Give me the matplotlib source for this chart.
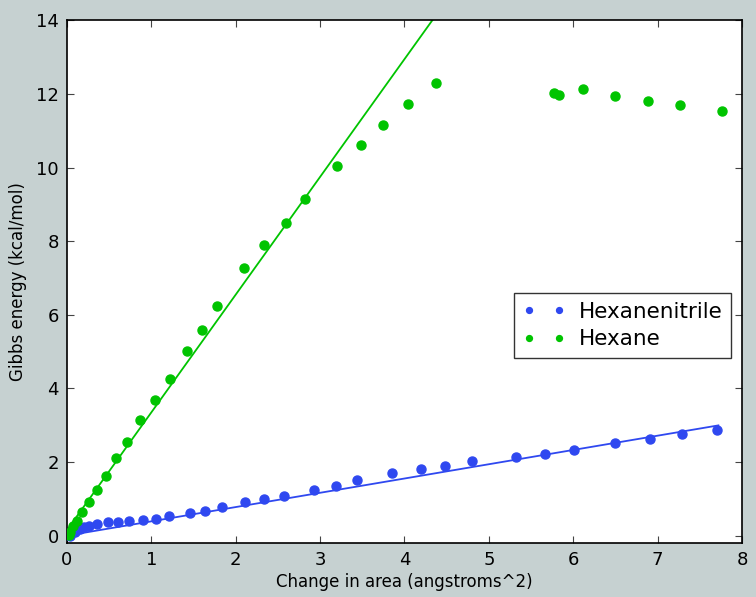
import matplotlib
matplotlib.use("Agg")
import matplotlib.pyplot as plt
import numpy as np

# Data
nitrile_x = [0.03, 0.09, 0.15, 0.20, 0.26, 0.36, 0.49, 0.60, 0.73, 0.90, 1.05, 1.21,
             1.46, 1.64, 1.84, 2.11, 2.33, 2.57, 2.93, 3.19, 3.44, 3.85, 4.19, 4.48,
             4.80, 5.32, 5.66, 6.01, 6.50, 6.91, 7.29, 7.70]
nitrile_y = [0.00, 0.11, 0.18, 0.23, 0.27, 0.32, 0.36, 0.36, 0.40, 0.43, 0.46, 0.54,
             0.61, 0.68, 0.79, 0.91, 0.99, 1.09, 1.25, 1.35, 1.51, 1.70, 1.81, 1.88,
             2.03, 2.14, 2.22, 2.32, 2.52, 2.62, 2.77, 2.87]

hexane_x = [0.02, 0.035, 0.067, 0.115, 0.18, 0.265, 0.36, 0.458, 0.58, 0.707, 0.865,
            1.04, 1.22, 1.42, 1.60, 1.78, 2.10, 2.33, 2.59, 2.82, 3.20, 3.48, 3.75,
            4.04, 4.37, 5.77, 5.83, 6.12, 6.50, 6.88, 7.26, 7.76]
hexane_y = [0.03, 0.11, 0.25, 0.41, 0.63, 0.91, 1.25, 1.61, 2.10, 2.54, 3.13,
            3.68, 4.26, 5.01, 5.58, 6.24, 7.26, 7.89, 8.49, 9.15, 10.05, 10.62, 11.17,
            11.73, 12.30, 12.03, 11.98, 12.13, 11.95, 11.81, 11.69, 11.55]

# Linear fits shown as lines
nitrile_fit = (0.388, 0.0)   # slope, intercept
hexane_fit = (3.20, 0.15)
fit_x = [0.0, 7.72]

blue = "#2f48f0"
green = "#00c400"
bg = "#c6d1d1"

fig = plt.figure(figsize=(7.56, 5.97), dpi=100, facecolor=bg)
ax = fig.add_axes([0.0886, 0.0905, 0.8929, 0.8752])
ax.set_facecolor("white")

fx = np.array(fit_x)
ax.plot(fx, nitrile_fit[0] * fx + nitrile_fit[1], color=blue, lw=1.3, zorder=2)
ax.plot(fx, hexane_fit[0] * fx + hexane_fit[1], color=green, lw=1.3, zorder=2)

ax.plot(nitrile_x, nitrile_y, "o", color=blue, mec=blue, ms=6.5, label="Hexanenitrile", zorder=3)
ax.plot(hexane_x, hexane_y, "o", color=green, mec=green, ms=6.5, label="Hexane", zorder=3)

ax.set_xlim(0, 8)
ax.set_ylim(-0.2, 14)
ax.set_xticks(range(0, 9))
ax.set_yticks(range(0, 15, 2))
ax.tick_params(direction="in", top=True, right=True, length=5, width=0.8,
               labelsize=13, pad=6, color="#444444")
for s in ax.spines.values():
    s.set_linewidth(1.2)
    s.set_color("black")

ax.set_xlabel("Change in area (angstroms^2)", fontsize=12, labelpad=3)
ax.set_ylabel("Gibbs energy (kcal/mol)", fontsize=12, labelpad=6)

leg = ax.legend(loc="upper right", bbox_to_anchor=(0.984, 0.478), numpoints=2,
                markerscale=0.65, fontsize=15.5, frameon=True, fancybox=False,
                borderpad=0.4, handletextpad=0.6, labelspacing=0.35, borderaxespad=0)
leg.get_frame().set_edgecolor("black")
leg.get_frame().set_linewidth(1.0)

fig.savefig("out.png", dpi=100, facecolor=bg)
